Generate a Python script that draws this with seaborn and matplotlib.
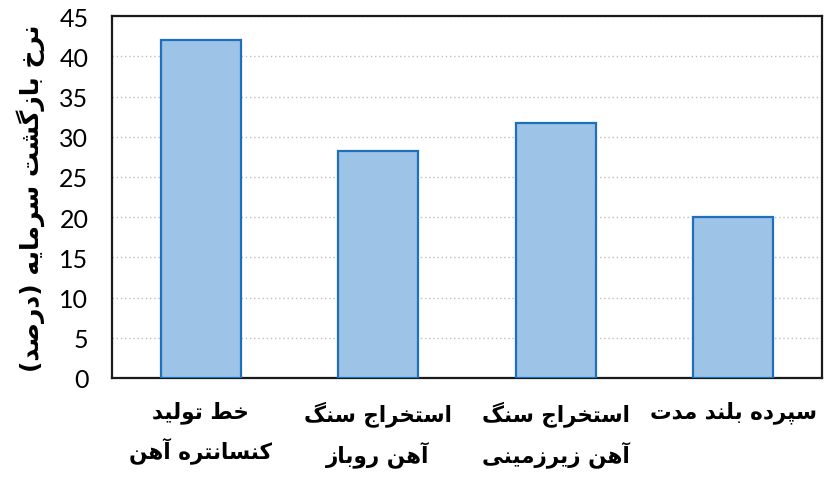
import pandas as pd
import seaborn as sns
import matplotlib.pyplot as plt

# داده‌ها
categories = ["خط تولید\nکنسانتره آهن", "استخراج سنگ\nآهن روباز",
              "استخراج سنگ\nآهن زیرزمینی", "سپرده بلند مدت"]
values = [42.0, 28.2, 31.7, 20.0]
y_ticks = [0, 5, 10, 15, 20, 25, 30, 35, 40, 45]
y_label = "نرخ بازگشت سرمایه (درصد)"

# matplotlib RTL/shaping ندارد، پس حروف را دستی به شکل‌های نمایشی تبدیل می‌کنیم
# (isolated, final, initial, medial)
FORMS = {
    "ا": ("\uFE8D", "\uFE8E", None, None),
    "آ": ("\uFE81", "\uFE82", None, None),
    "ب": ("\uFE8F", "\uFE90", "\uFE91", "\uFE92"),
    "پ": ("\uFB56", "\uFB57", "\uFB58", "\uFB59"),
    "ت": ("\uFE95", "\uFE96", "\uFE97", "\uFE98"),
    "ج": ("\uFE9D", "\uFE9E", "\uFE9F", "\uFEA0"),
    "خ": ("\uFEA5", "\uFEA6", "\uFEA7", "\uFEA8"),
    "د": ("\uFEA9", "\uFEAA", None, None),
    "ر": ("\uFEAD", "\uFEAE", None, None),
    "ز": ("\uFEAF", "\uFEB0", None, None),
    "س": ("\uFEB1", "\uFEB2", "\uFEB3", "\uFEB4"),
    "ش": ("\uFEB5", "\uFEB6", "\uFEB7", "\uFEB8"),
    "ص": ("\uFEB9", "\uFEBA", "\uFEBB", "\uFEBC"),
    "ط": ("\uFEC1", "\uFEC2", "\uFEC3", "\uFEC4"),
    "ک": ("\uFB8E", "\uFB8F", "\uFB90", "\uFB91"),
    "گ": ("\uFB92", "\uFB93", "\uFB94", "\uFB95"),
    "ل": ("\uFEDD", "\uFEDE", "\uFEDF", "\uFEE0"),
    "م": ("\uFEE1", "\uFEE2", "\uFEE3", "\uFEE4"),
    "ن": ("\uFEE5", "\uFEE6", "\uFEE7", "\uFEE8"),
    "ه": ("\uFEE9", "\uFEEA", "\uFEEB", "\uFEEC"),
    "و": ("\uFEED", "\uFEEE", None, None),
    "ی": ("\uFBFC", "\uFBFD", "\uFBFE", "\uFBFF"),
}


def joins_next(ch):
    return ch in FORMS and FORMS[ch][2] is not None


def shape_line(s):
    out = []
    for i, ch in enumerate(s):
        if ch not in FORMS:
            out.append(ch)
            continue
        prev_j = i > 0 and joins_next(s[i - 1])
        next_j = i + 1 < len(s) and s[i + 1] in FORMS and joins_next(ch)
        iso, fin, ini, med = FORMS[ch]
        if prev_j and next_j:
            out.append(med)
        elif prev_j:
            out.append(fin)
        elif next_j:
            out.append(ini)
        else:
            out.append(iso)
    vis = "".join(reversed(out))
    return vis.translate(str.maketrans("()", ")("))


def fa(s):
    return "\n".join(shape_line(line) for line in s.split("\n"))


df = pd.DataFrame({"cat": [fa(c) for c in categories], "val": values})

fig = plt.figure(figsize=(8.33, 4.85), dpi=100)
ax = fig.add_axes([0.1345, 0.2186, 0.852, 0.746])

sns.barplot(data=df, x="cat", y="val", color="#9DC3E6", saturation=1,
            edgecolor="#1F6FBF", linewidth=1.6, width=0.45, ax=ax, zorder=3)

ax.set_ylim(0, 45)
ax.set_yticks(y_ticks)
ax.yaxis.grid(True, linestyle=(0, (1, 2)), color="#BFBFBF", linewidth=1, zorder=0)
ax.set_axisbelow(True)
for sp in ax.spines.values():
    sp.set_color("#1a1a1a")
    sp.set_linewidth(1.6)

ax.tick_params(axis="both", length=0)
ax.tick_params(axis="y", pad=17, labelsize=18)
ax.tick_params(axis="x", pad=16)
for lab in ax.get_yticklabels():
    lab.set_fontfamily("Lato")
for lab in ax.get_xticklabels():
    lab.set_fontfamily("DejaVu Sans")
    lab.set_fontweight("bold")
    lab.set_fontsize(15.5)
    lab.set_linespacing(1.65)

ax.set_xlabel("")
ax.set_ylabel(fa(y_label), fontsize=18, fontweight="bold",
              fontfamily="DejaVu Sans", labelpad=10)

fig.savefig("out.png", dpi=100)
